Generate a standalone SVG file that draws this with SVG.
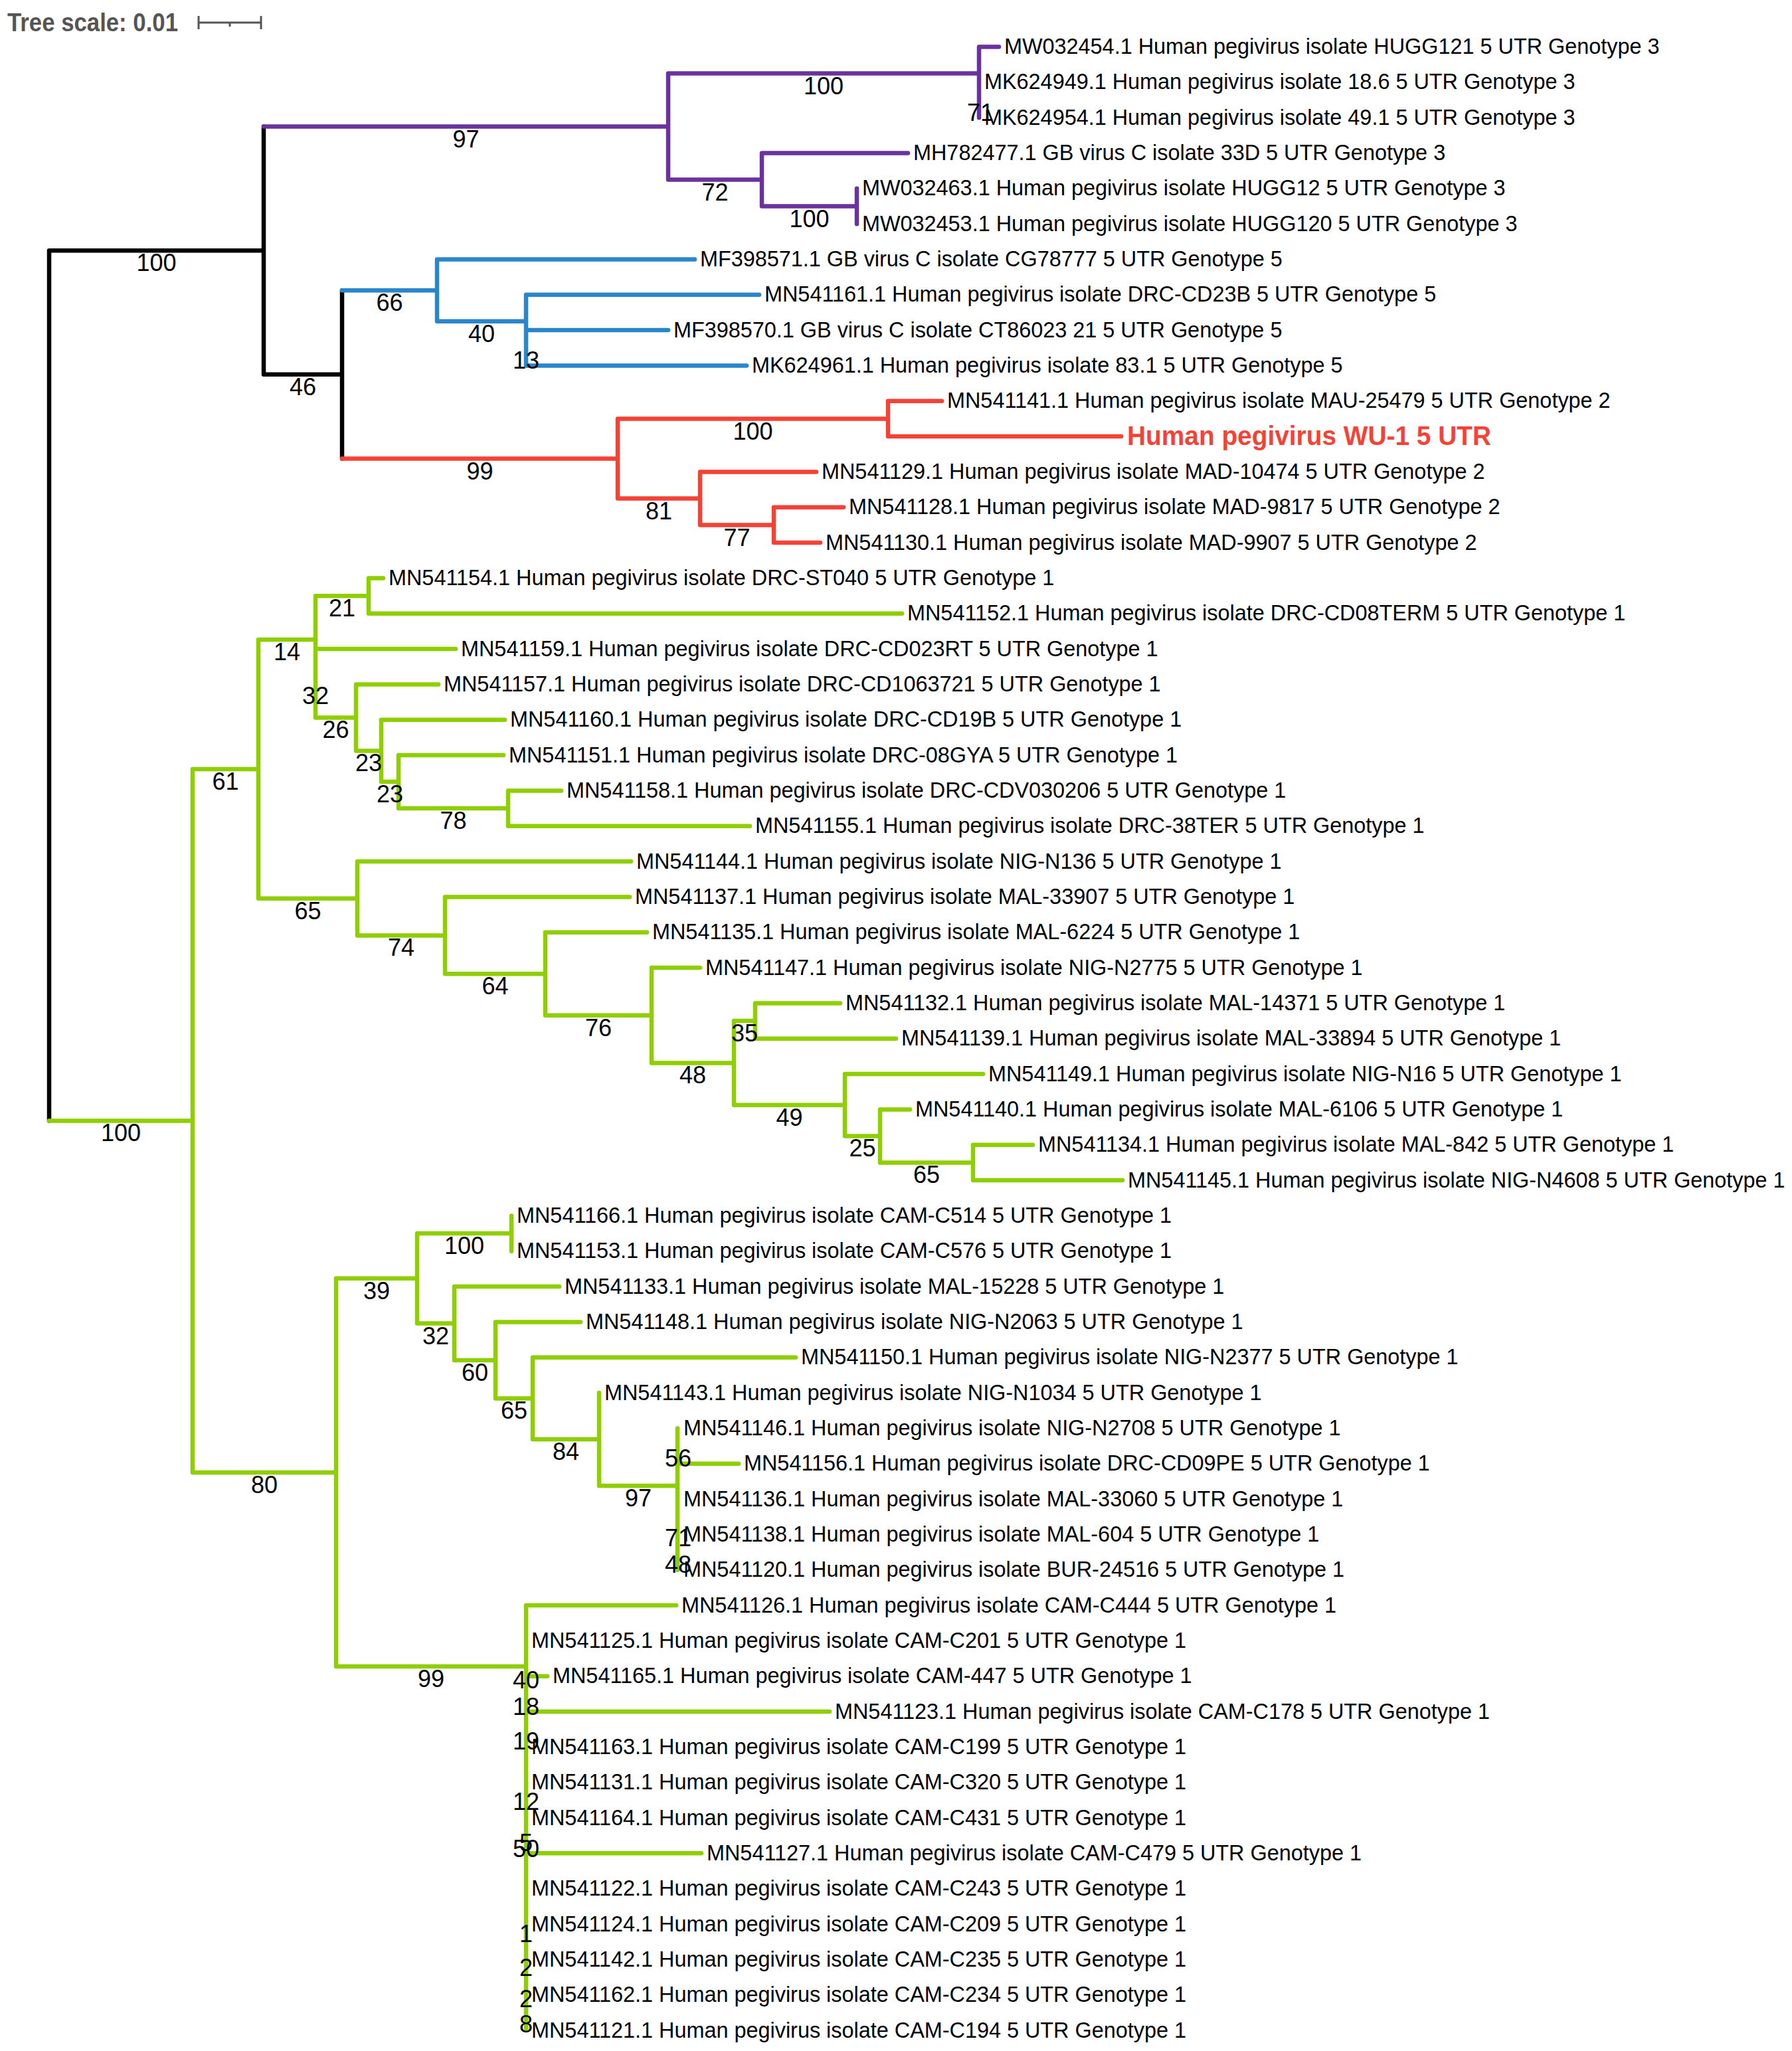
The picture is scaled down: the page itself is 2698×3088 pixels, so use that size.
<svg xmlns="http://www.w3.org/2000/svg" width="2698" height="3088" viewBox="0 0 2698 3088">
<style>
.br{fill:none;stroke-width:6.5;stroke-linecap:round;stroke-linejoin:round}
.k{stroke:#000}.p{stroke:#6a329f}.b{stroke:#2986cc}.r{stroke:#f44336}.g{stroke:#8fce00}
.lf{font-family:"Liberation Sans",Arial,sans-serif;font-size:32.4px;fill:#000}
.hl{font-family:"Liberation Sans",Arial,sans-serif;font-size:40px;font-weight:bold;fill:#f44336}
.bs{font-family:"Liberation Sans",Arial,sans-serif;font-size:36px;fill:#000;text-anchor:middle}
.sc{font-family:"Liberation Sans",Arial,sans-serif;font-size:38px;font-weight:bold;fill:#555}
</style>
<rect width="2698" height="3088" fill="#fff"/>
<g id="tree-scale">
<text class="sc" x="11" y="47" textLength="257" lengthAdjust="spacingAndGlyphs">Tree scale: 0.01</text>
<path d="M299,34 H393 M299,24 V44 M393,24 V44 M346,34 V40" fill="none" stroke="#555" stroke-width="3"/>
</g>
<g id="connectors">
<path class="br k" d="M74,377.2 V1687.4 M74,377.2 H397 M397,190.5 V563.8 M397,563.8 H515 M515,437.2 V690.5"/>
<path class="br p" d="M397,190.5 H1006 M1006,110.5 V270.5 M1006,110.5 H1474 M1474,70.5 V177.2 M1474,70.5 H1504 M1006,270.5 H1147 M1147,230.5 V310.5 M1147,230.5 H1367 M1147,310.5 H1290 M1290,283.8 V337.2"/>
<path class="br b" d="M515,437.2 H658 M658,390.5 V483.8 M658,390.5 H1046 M658,483.8 H792 M792,443.8 V550.5 M792,443.8 H1143 M792,497.1 H1006 M792,550.5 H1124"/>
<path class="br r" d="M515,690.5 H930 M930,630.5 V750.5 M930,630.5 H1337 M1337,603.8 V657.1 M1337,603.8 H1418 M1337,657.1 H1688 M930,750.5 H1054 M1054,710.5 V790.5 M1054,710.5 H1229 M1054,790.5 H1165 M1165,763.8 V817.1 M1165,763.8 H1270 M1165,817.1 H1235"/>
<path class="br g" d="M74,1687.4 H290 M290,1157.9 V2217 M290,1157.9 H389 M389,963 V1352.8 M389,963 H475 M475,897.2 V1080.4 M475,897.2 H555 M555,870.5 V923.8 M555,870.5 H577 M555,923.8 H1358 M475,977.1 H686 M475,1080.4 H536 M536,1030.4 V1130.4 M536,1030.4 H660 M536,1130.4 H574 M574,1083.8 V1177.1 M574,1083.8 H760 M574,1177.1 H600 M600,1137.1 V1217.1 M600,1137.1 H758 M600,1217.1 H765 M765,1190.4 V1243.8 M765,1190.4 H845 M765,1243.8 H1129 M389,1352.8 H538 M538,1297.1 V1408.4 M538,1297.1 H950 M538,1408.4 H670 M670,1350.4 V1466.3 M670,1350.4 H948 M670,1466.3 H821 M821,1403.8 V1528.8 M821,1403.8 H974 M821,1528.8 H981 M981,1457.1 V1600.4 M981,1457.1 H1054 M981,1600.4 H1105 M1105,1537.1 V1663.8 M1105,1537.1 H1137 M1137,1510.4 V1563.7 M1137,1510.4 H1265 M1137,1563.7 H1349 M1105,1663.8 H1272 M1272,1617.1 V1710.4 M1272,1617.1 H1480 M1272,1710.4 H1325 M1325,1670.4 V1750.4 M1325,1670.4 H1370 M1325,1750.4 H1465 M1465,1723.7 V1777.1 M1465,1723.7 H1555 M1465,1777.1 H1690 M290,2217 H506 M506,1924.8 V2509 M506,1924.8 H628 M628,1857.1 V1992.5 M628,1857.1 H770 M770,1830.4 V1883.7 M628,1992.5 H684 M684,1937.1 V2047.9 M684,1937.1 H842 M684,2047.9 H746 M746,1990.4 V2105.4 M746,1990.4 H874 M746,2105.4 H802 M802,2043.7 V2167 M802,2043.7 H1198 M802,2167 H902 M902,2097 V2237 M902,2237 H1020 M1020,2150.4 V2363.7 M1020,2203.7 H1112 M506,2509 H792 M792,2417 V3057 M792,2417 H1018 M792,2523.7 H824 M792,2577 H1249 M792,2790.3 H1056"/>
</g>
<g id="bootstrap">
<text class="bs" x="235.5" y="408">100</text>
<text class="bs" x="182" y="1718.4">100</text>
<text class="bs" x="701.5" y="221.5">97</text>
<text class="bs" x="456" y="594.8">46</text>
<text class="bs" x="586.5" y="468.2">66</text>
<text class="bs" x="722.5" y="721.5">99</text>
<text class="bs" x="1240" y="141.5">100</text>
<text class="bs" x="1076.5" y="301.5">72</text>
<text class="bs" x="1476" y="181.5">71</text>
<text class="bs" x="1218.5" y="341.5">100</text>
<text class="bs" x="725" y="514.8">40</text>
<text class="bs" x="792" y="554.8">13</text>
<text class="bs" x="1133.5" y="661.5">100</text>
<text class="bs" x="992" y="781.5">81</text>
<text class="bs" x="1109.5" y="821.5">77</text>
<text class="bs" x="339.5" y="1188.9">61</text>
<text class="bs" x="398" y="2248">80</text>
<text class="bs" x="432" y="994">14</text>
<text class="bs" x="463.5" y="1383.8">65</text>
<text class="bs" x="515" y="928.2">21</text>
<text class="bs" x="475" y="1059.8">32</text>
<text class="bs" x="505.5" y="1111.4">26</text>
<text class="bs" x="555" y="1161.4">23</text>
<text class="bs" x="587" y="1208.1">23</text>
<text class="bs" x="682.5" y="1248.1">78</text>
<text class="bs" x="604" y="1439.4">74</text>
<text class="bs" x="745.5" y="1497.3">64</text>
<text class="bs" x="901" y="1559.8">76</text>
<text class="bs" x="1043" y="1631.4">48</text>
<text class="bs" x="1121" y="1568.1">35</text>
<text class="bs" x="1188.5" y="1694.8">49</text>
<text class="bs" x="1298.5" y="1741.4">25</text>
<text class="bs" x="1395" y="1781.4">65</text>
<text class="bs" x="567" y="1955.8">39</text>
<text class="bs" x="649" y="2540">99</text>
<text class="bs" x="699" y="1888.1">100</text>
<text class="bs" x="656" y="2023.5">32</text>
<text class="bs" x="715" y="2078.9">60</text>
<text class="bs" x="774" y="2136.4">65</text>
<text class="bs" x="852" y="2198">84</text>
<text class="bs" x="961" y="2268">97</text>
<text class="bs" x="1021" y="2208">56</text>
<text class="bs" x="1021" y="2328">71</text>
<text class="bs" x="1021" y="2368">48</text>
<text class="bs" x="792" y="2542">40</text>
<text class="bs" x="792" y="2582">18</text>
<text class="bs" x="792" y="2634">19</text>
<text class="bs" x="792" y="2725">12</text>
<text class="bs" x="792" y="2787">5</text>
<text class="bs" x="792" y="2796">50</text>
<text class="bs" x="792" y="2924">1</text>
<text class="bs" x="792" y="2975">2</text>
<text class="bs" x="792" y="3022">2</text>
<text class="bs" x="792" y="3060">8</text>
</g>
<g id="leaf-MW032454"><text class="lf" x="1512" y="81">MW032454.1 Human pegivirus isolate HUGG121 5 UTR Genotype 3</text></g>
<g id="leaf-MK624949"><text class="lf" x="1482" y="134.3">MK624949.1 Human pegivirus isolate 18.6 5 UTR Genotype 3</text></g>
<g id="leaf-MK624954"><text class="lf" x="1482" y="187.7">MK624954.1 Human pegivirus isolate 49.1 5 UTR Genotype 3</text></g>
<g id="leaf-MH782477"><text class="lf" x="1375" y="241">MH782477.1 GB virus C isolate 33D 5 UTR Genotype 3</text></g>
<g id="leaf-MW032463"><text class="lf" x="1298" y="294.3">MW032463.1 Human pegivirus isolate HUGG12 5 UTR Genotype 3</text></g>
<g id="leaf-MW032453"><text class="lf" x="1298" y="347.7">MW032453.1 Human pegivirus isolate HUGG120 5 UTR Genotype 3</text></g>
<g id="leaf-MF398571"><text class="lf" x="1054" y="401">MF398571.1 GB virus C isolate CG78777 5 UTR Genotype 5</text></g>
<g id="leaf-MN541161"><text class="lf" x="1151" y="454.3">MN541161.1 Human pegivirus isolate DRC-CD23B 5 UTR Genotype 5</text></g>
<g id="leaf-MF398570"><text class="lf" x="1014" y="507.6">MF398570.1 GB virus C isolate CT86023 21 5 UTR Genotype 5</text></g>
<g id="leaf-MK624961"><text class="lf" x="1132" y="561">MK624961.1 Human pegivirus isolate 83.1 5 UTR Genotype 5</text></g>
<g id="leaf-MN541141"><text class="lf" x="1426" y="614.3">MN541141.1 Human pegivirus isolate MAU-25479 5 UTR Genotype 2</text></g>
<g id="leaf-WU-1"><text class="hl" x="1697" y="670" textLength="548" lengthAdjust="spacingAndGlyphs">Human pegivirus WU-1 5 UTR</text></g>
<g id="leaf-MN541129"><text class="lf" x="1237" y="721">MN541129.1 Human pegivirus isolate MAD-10474 5 UTR Genotype 2</text></g>
<g id="leaf-MN541128"><text class="lf" x="1278" y="774.3">MN541128.1 Human pegivirus isolate MAD-9817 5 UTR Genotype 2</text></g>
<g id="leaf-MN541130"><text class="lf" x="1243" y="827.6">MN541130.1 Human pegivirus isolate MAD-9907 5 UTR Genotype 2</text></g>
<g id="leaf-MN541154"><text class="lf" x="585" y="881">MN541154.1 Human pegivirus isolate DRC-ST040 5 UTR Genotype 1</text></g>
<g id="leaf-MN541152"><text class="lf" x="1366" y="934.3">MN541152.1 Human pegivirus isolate DRC-CD08TERM 5 UTR Genotype 1</text></g>
<g id="leaf-MN541159"><text class="lf" x="694" y="987.6">MN541159.1 Human pegivirus isolate DRC-CD023RT 5 UTR Genotype 1</text></g>
<g id="leaf-MN541157"><text class="lf" x="668" y="1040.9">MN541157.1 Human pegivirus isolate DRC-CD1063721 5 UTR Genotype 1</text></g>
<g id="leaf-MN541160"><text class="lf" x="768" y="1094.3">MN541160.1 Human pegivirus isolate DRC-CD19B 5 UTR Genotype 1</text></g>
<g id="leaf-MN541151"><text class="lf" x="766" y="1147.6">MN541151.1 Human pegivirus isolate DRC-08GYA 5 UTR Genotype 1</text></g>
<g id="leaf-MN541158"><text class="lf" x="853" y="1200.9">MN541158.1 Human pegivirus isolate DRC-CDV030206 5 UTR Genotype 1</text></g>
<g id="leaf-MN541155"><text class="lf" x="1137" y="1254.3">MN541155.1 Human pegivirus isolate DRC-38TER 5 UTR Genotype 1</text></g>
<g id="leaf-MN541144"><text class="lf" x="958" y="1307.6">MN541144.1 Human pegivirus isolate NIG-N136 5 UTR Genotype 1</text></g>
<g id="leaf-MN541137"><text class="lf" x="956" y="1360.9">MN541137.1 Human pegivirus isolate MAL-33907 5 UTR Genotype 1</text></g>
<g id="leaf-MN541135"><text class="lf" x="982" y="1414.3">MN541135.1 Human pegivirus isolate MAL-6224 5 UTR Genotype 1</text></g>
<g id="leaf-MN541147"><text class="lf" x="1062" y="1467.6">MN541147.1 Human pegivirus isolate NIG-N2775 5 UTR Genotype 1</text></g>
<g id="leaf-MN541132"><text class="lf" x="1273" y="1520.9">MN541132.1 Human pegivirus isolate MAL-14371 5 UTR Genotype 1</text></g>
<g id="leaf-MN541139"><text class="lf" x="1357" y="1574.2">MN541139.1 Human pegivirus isolate MAL-33894 5 UTR Genotype 1</text></g>
<g id="leaf-MN541149"><text class="lf" x="1488" y="1627.6">MN541149.1 Human pegivirus isolate NIG-N16 5 UTR Genotype 1</text></g>
<g id="leaf-MN541140"><text class="lf" x="1378" y="1680.9">MN541140.1 Human pegivirus isolate MAL-6106 5 UTR Genotype 1</text></g>
<g id="leaf-MN541134"><text class="lf" x="1563" y="1734.2">MN541134.1 Human pegivirus isolate MAL-842 5 UTR Genotype 1</text></g>
<g id="leaf-MN541145"><text class="lf" x="1698" y="1787.6">MN541145.1 Human pegivirus isolate NIG-N4608 5 UTR Genotype 1</text></g>
<g id="leaf-MN541166"><text class="lf" x="778" y="1840.9">MN541166.1 Human pegivirus isolate CAM-C514 5 UTR Genotype 1</text></g>
<g id="leaf-MN541153"><text class="lf" x="778" y="1894.2">MN541153.1 Human pegivirus isolate CAM-C576 5 UTR Genotype 1</text></g>
<g id="leaf-MN541133"><text class="lf" x="850" y="1947.6">MN541133.1 Human pegivirus isolate MAL-15228 5 UTR Genotype 1</text></g>
<g id="leaf-MN541148"><text class="lf" x="882" y="2000.9">MN541148.1 Human pegivirus isolate NIG-N2063 5 UTR Genotype 1</text></g>
<g id="leaf-MN541150"><text class="lf" x="1206" y="2054.2">MN541150.1 Human pegivirus isolate NIG-N2377 5 UTR Genotype 1</text></g>
<g id="leaf-MN541143"><text class="lf" x="910" y="2107.5">MN541143.1 Human pegivirus isolate NIG-N1034 5 UTR Genotype 1</text></g>
<g id="leaf-MN541146"><text class="lf" x="1029" y="2160.9">MN541146.1 Human pegivirus isolate NIG-N2708 5 UTR Genotype 1</text></g>
<g id="leaf-MN541156"><text class="lf" x="1120" y="2214.2">MN541156.1 Human pegivirus isolate DRC-CD09PE 5 UTR Genotype 1</text></g>
<g id="leaf-MN541136"><text class="lf" x="1029" y="2267.5">MN541136.1 Human pegivirus isolate MAL-33060 5 UTR Genotype 1</text></g>
<g id="leaf-MN541138"><text class="lf" x="1029" y="2320.9">MN541138.1 Human pegivirus isolate MAL-604 5 UTR Genotype 1</text></g>
<g id="leaf-MN541120"><text class="lf" x="1029" y="2374.2">MN541120.1 Human pegivirus isolate BUR-24516 5 UTR Genotype 1</text></g>
<g id="leaf-MN541126"><text class="lf" x="1026" y="2427.5">MN541126.1 Human pegivirus isolate CAM-C444 5 UTR Genotype 1</text></g>
<g id="leaf-MN541125"><text class="lf" x="800" y="2480.9">MN541125.1 Human pegivirus isolate CAM-C201 5 UTR Genotype 1</text></g>
<g id="leaf-MN541165"><text class="lf" x="832" y="2534.2">MN541165.1 Human pegivirus isolate CAM-447 5 UTR Genotype 1</text></g>
<g id="leaf-MN541123"><text class="lf" x="1257" y="2587.5">MN541123.1 Human pegivirus isolate CAM-C178 5 UTR Genotype 1</text></g>
<g id="leaf-MN541163"><text class="lf" x="800" y="2640.8">MN541163.1 Human pegivirus isolate CAM-C199 5 UTR Genotype 1</text></g>
<g id="leaf-MN541131"><text class="lf" x="800" y="2694.2">MN541131.1 Human pegivirus isolate CAM-C320 5 UTR Genotype 1</text></g>
<g id="leaf-MN541164"><text class="lf" x="800" y="2747.5">MN541164.1 Human pegivirus isolate CAM-C431 5 UTR Genotype 1</text></g>
<g id="leaf-MN541127"><text class="lf" x="1064" y="2800.8">MN541127.1 Human pegivirus isolate CAM-C479 5 UTR Genotype 1</text></g>
<g id="leaf-MN541122"><text class="lf" x="800" y="2854.2">MN541122.1 Human pegivirus isolate CAM-C243 5 UTR Genotype 1</text></g>
<g id="leaf-MN541124"><text class="lf" x="800" y="2907.5">MN541124.1 Human pegivirus isolate CAM-C209 5 UTR Genotype 1</text></g>
<g id="leaf-MN541142"><text class="lf" x="800" y="2960.8">MN541142.1 Human pegivirus isolate CAM-C235 5 UTR Genotype 1</text></g>
<g id="leaf-MN541162"><text class="lf" x="800" y="3014.2">MN541162.1 Human pegivirus isolate CAM-C234 5 UTR Genotype 1</text></g>
<g id="leaf-MN541121"><text class="lf" x="800" y="3067.5">MN541121.1 Human pegivirus isolate CAM-C194 5 UTR Genotype 1</text></g>
</svg>
